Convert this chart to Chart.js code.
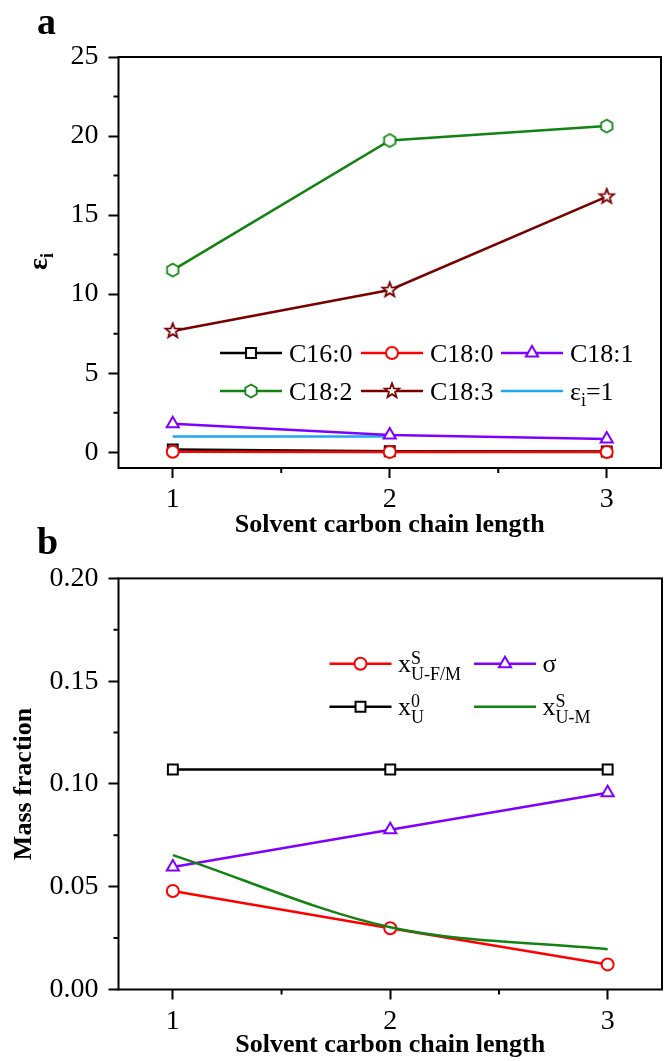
<!DOCTYPE html>
<html>
<head>
<meta charset="utf-8">
<script src="https://cdn.jsdelivr.net/npm/chart.js@4.4.0/dist/chart.umd.min.js"></script>
<style>
  body { margin: 0; background: #fff; }
  #wrap { position: relative; width: 671px; height: 1061px; overflow: hidden; background: #fff; }
  #wrap canvas { position: absolute; left: 0; }
  #chartA { top: 0; }
  #chartB { top: 525px; }
</style>
</head>
<body>
<div id="wrap">
  <canvas id="chartA" width="671" height="545"></canvas>
  <canvas id="chartB" width="671" height="536"></canvas>
</div>
<script>
// --- data: solvent chain length vs. separation factor (a) and mass fractions (b) ---
const chainLength = [1, 2, 3];
const xTicks = [1, 2, 3];
const xMinor = [1.5, 2.5];

const c160 = [0.17, 0.06, 0.04];
const c180 = [0.03, 0.02, 0.01];
const c181 = [1.80, 1.08, 0.83];
const c182 = [11.52, 19.72, 20.63];
const c183 = [7.67, 10.26, 16.17];
const epsOneX = [1, 2];
const epsOneY = [1, 1];
const yTicksA = [0, 5, 10, 15, 20, 25];
const yMinorA = [2.5, 7.5, 12.5, 17.5, 22.5];

const xU0 = [0.107, 0.107, 0.107];
const sigma = [0.0596, 0.0777, 0.0957];
const xUFM = [0.0479, 0.0298, 0.0122];
const xUM = [0.0654, 0.0303, 0.0196];
const yTicksB = [0, 0.05, 0.10, 0.15, 0.20];
const yMinorB = [0.025, 0.075, 0.125, 0.175];

const SERIF = "'Liberation Serif', 'Times New Roman', serif";

// colours
const BLACK = '#000000';
const RED = '#ff0000';
const VIOLET = '#8000ff';
const GREEN = '#128312';
const WINE = '#7a0000';
const CYAN = '#1ea6f0';

function pts(ys, xs) {
  xs = xs || chainLength;
  return ys.map((y, i) => ({ x: xs[i], y: y }));
}

// hollow marker drawn into a small canvas (hexagon / 5-point star)
function makeMarker(path, color) {
  const c = document.createElement('canvas');
  c.width = 20; c.height = 20;
  const g = c.getContext('2d');
  g.translate(10, 10);
  g.beginPath(); path(g); g.closePath();
  g.fillStyle = '#fff'; g.fill();
  g.lineWidth = 1.8; g.strokeStyle = color; g.lineJoin = 'miter'; g.stroke();
  return c;
}
const hexagon = makeMarker(g => {
  for (let k = 0; k < 6; k++) {
    const a = -Math.PI / 2 + k * Math.PI / 3;
    g.lineTo(6.5 * Math.cos(a), 6.5 * Math.sin(a));
  }
}, GREEN);
const star = makeMarker(g => {
  for (let k = 0; k < 10; k++) {
    const a = -Math.PI / 2 + k * Math.PI / 5;
    const r = k % 2 ? 3.2 : 7.6;
    g.lineTo(r * Math.cos(a), r * Math.sin(a));
  }
}, WINE);

function series(label, data, color, style, radius, extra) {
  return Object.assign({
    label: label,
    data: data,
    borderColor: color,
    backgroundColor: color,
    borderWidth: 2.5,
    pointStyle: style,
    pointRadius: radius,
    pointBorderWidth: 2,
    pointBorderColor: color,
    pointBackgroundColor: '#fff',
    tension: 0
  }, extra || {});
}

// text with stacked super/subscripts: parts are strings or {sup, sub}
function drawRich(ctx, parts, x, y, o) {
  ctx.textAlign = 'left';
  ctx.textBaseline = 'alphabetic';
  ctx.fillStyle = '#000';
  parts.forEach(p => {
    if (typeof p === 'string') {
      ctx.font = o.weight + ' ' + o.size + 'px ' + SERIF;
      ctx.fillText(p, x, y + o.base);
      x += ctx.measureText(p).width;
    } else {
      ctx.font = o.weight + ' ' + o.small + 'px ' + SERIF;
      let w = 0;
      if (p.sup) { ctx.fillText(p.sup, x, y + o.supBase); w = Math.max(w, ctx.measureText(p.sup).width); }
      if (p.sub) { ctx.fillText(p.sub, x, y + o.subBase); w = Math.max(w, ctx.measureText(p.sub).width); }
      x += w;
    }
  });
}

// legend with line + marker + rich label
const richLegend = {
  id: 'richLegend',
  afterDraw(chart, args, opts) {
    const ctx = chart.ctx;
    (opts.items || []).forEach(item => {
      const ds = chart.data.datasets[item.dataset];
      ctx.save();
      ctx.strokeStyle = ds.borderColor;
      ctx.lineWidth = ds.borderWidth;
      ctx.beginPath();
      ctx.moveTo(item.x, item.y);
      ctx.lineTo(item.x + opts.lineLength, item.y);
      ctx.stroke();
      if (ds.pointRadius > 0) {
        ctx.fillStyle = ds.pointBackgroundColor;
        ctx.strokeStyle = ds.pointBorderColor;
        ctx.lineWidth = ds.pointBorderWidth;
        Chart.helpers.drawPoint(ctx, {
          pointStyle: ds.pointStyle, radius: ds.pointRadius, rotation: 0, borderWidth: ds.pointBorderWidth
        }, item.x + opts.lineLength / 2, item.y);
      }
      drawRich(ctx, item.label, item.x + opts.lineLength + opts.gap, item.y, opts.text);
      ctx.restore();
    });
  }
};

// closed frame, short minor ticks, panel letter, rotated rich y title
const frame = {
  id: 'frame',
  afterDraw(chart, args, opts) {
    const { ctx, chartArea: a, scales } = chart;
    ctx.save();
    ctx.strokeStyle = '#000';
    ctx.lineWidth = 2;
    ctx.strokeRect(a.left, a.top, a.right - a.left, a.bottom - a.top);
    ctx.beginPath();
    opts.minorX.forEach(v => {
      const px = scales.x.getPixelForValue(v);
      ctx.moveTo(px, a.bottom); ctx.lineTo(px, a.bottom + 5);
    });
    opts.minorY.forEach(v => {
      const py = scales.y.getPixelForValue(v);
      ctx.moveTo(a.left, py); ctx.lineTo(a.left - 5, py);
    });
    ctx.stroke();

    ctx.fillStyle = '#000';
    ctx.font = 'bold 38px ' + SERIF;
    ctx.textAlign = 'left';
    ctx.textBaseline = 'alphabetic';
    ctx.fillText(opts.letter.text, opts.letter.x, opts.letter.y);

    if (opts.yTitle) {
      const t = opts.yTitle;
      ctx.translate(t.x, t.y);
      ctx.rotate(-Math.PI / 2);
      drawRich(ctx, t.parts, 0, 0, t.text);
    }
    ctx.restore();
  }
};

function axes(cfg) {
  return {
    x: {
      type: 'linear', min: 0.75, max: 3.25,
      afterBuildTicks: s => { s.ticks = xTicks.map(v => ({ value: v })); },
      afterFit: s => { s.height = cfg.xHeight; },
      grid: { drawOnChartArea: false, tickLength: 10, tickWidth: 2, tickColor: '#000' },
      border: { display: false },
      ticks: { font: { family: SERIF, size: 28, lineHeight: 1.2 }, color: '#000', padding: 5, maxRotation: 0 },
      title: {
        display: true, text: 'Solvent carbon chain length', color: '#000',
        font: { family: SERIF, size: 26, weight: 'bold', lineHeight: 1.2 },
        padding: { top: 0, bottom: cfg.xTitlePad }
      }
    },
    y: {
      type: 'linear', min: cfg.yMin, max: cfg.yMax,
      afterBuildTicks: s => { s.ticks = cfg.yTicks.map(v => ({ value: v })); },
      afterFit: s => { s.width = 118.5; },
      grid: { drawOnChartArea: false, tickLength: 10, tickWidth: 2, tickColor: '#000' },
      border: { display: false },
      ticks: {
        font: { family: SERIF, size: 28, lineHeight: 1.2 }, color: '#000', padding: 10,
        callback: cfg.yFormat
      },
      title: cfg.yTitle
    }
  };
}

const legendText = { weight: 'normal', size: 26, small: 18, base: 8.5, supBase: 0, subBase: 16 };

// --- panel a ---
new Chart(document.getElementById('chartA'), {
  type: 'line',
  data: {
    datasets: [
      series('C16:0', pts(c160), BLACK, 'rect', 7, { order: 6 }),
      series('C18:0', pts(c180), RED, 'circle', 6, { order: 5 }),
      series('C18:1', pts(c181), VIOLET, 'triangle', 7, { order: 3 }),
      series('C18:2', pts(c182), GREEN, hexagon, 7, { order: 2 }),
      series('C18:3', pts(c183), WINE, star, 8, { order: 1 }),
      series('εi=1', pts(epsOneY, epsOneX), CYAN, 'circle', 0, { order: 4 })
    ]
  },
  options: {
    responsive: false,
    animation: false,
    devicePixelRatio: 1,
    events: [],
    layout: { padding: { top: 57, right: 2, left: 0, bottom: 0 } },
    scales: axes({
      xHeight: 77, xTitlePad: 4, yMin: -1, yMax: 25, yTicks: yTicksA,
      yFormat: v => String(v), yTitle: { display: false }
    }),
    plugins: {
      legend: { display: false },
      tooltip: { enabled: false },
      frame: {
        minorX: xMinor, minorY: yMinorA,
        letter: { text: 'a', x: 37, y: 34 },
        yTitle: {
          x: 47, y: 270, parts: ['ε', { sub: 'i' }],
          text: { weight: 'bold', size: 28, small: 18, base: 0, subBase: 6 }
        }
      },
      richLegend: {
        lineLength: 62, gap: 7, text: Object.assign({}, legendText, { subBase: 15 }),
        items: [
          { dataset: 0, x: 220, y: 353, label: ['C16:0'] },
          { dataset: 1, x: 361, y: 353, label: ['C18:0'] },
          { dataset: 2, x: 501, y: 353, label: ['C18:1'] },
          { dataset: 3, x: 220, y: 391, label: ['C18:2'] },
          { dataset: 4, x: 361, y: 391, label: ['C18:3'] },
          { dataset: 5, x: 501, y: 391, label: ['ε', { sub: 'i' }, '=1'] }
        ]
      }
    }
  },
  plugins: [frame, richLegend]
});

// --- panel b ---
new Chart(document.getElementById('chartB'), {
  type: 'line',
  data: {
    datasets: [
      series('x0U', pts(xU0), BLACK, 'rect', 7, { order: 4 }),
      series('sigma', pts(sigma), VIOLET, 'triangle', 7, { order: 3 }),
      series('xSU-F/M', pts(xUFM), RED, 'circle', 6, { order: 2 }),
      series('xSU-M', pts(xUM), GREEN, 'circle', 0, { order: 1, cubicInterpolationMode: 'monotone' })
    ]
  },
  options: {
    responsive: false,
    animation: false,
    devicePixelRatio: 1,
    events: [],
    layout: { padding: { top: 53.4, right: 2, left: 0, bottom: 0 } },
    scales: axes({
      xHeight: 71.5, xTitlePad: 0, yMin: 0, yMax: 0.2, yTicks: yTicksB,
      yFormat: v => v.toFixed(2),
      yTitle: {
        display: true, text: 'Mass fraction', color: '#000',
        font: { family: SERIF, size: 26, weight: 'bold', lineHeight: 1.2 },
        padding: { top: 9, bottom: 0 }
      }
    }),
    plugins: {
      legend: { display: false },
      tooltip: { enabled: false },
      frame: {
        minorX: xMinor, minorY: yMinorB,
        letter: { text: 'b', x: 37, y: 29 }
      },
      richLegend: {
        lineLength: 62, gap: 6.5, text: Object.assign({}, legendText, { base: 8 }),
        items: [
          { dataset: 2, x: 329.5, y: 138.8, label: ['x', { sup: 'S', sub: 'U-F/M' }] },
          { dataset: 1, x: 474, y: 138.8, label: ['σ'] },
          { dataset: 0, x: 329.5, y: 181.8, label: ['x', { sup: '0', sub: 'U' }] },
          { dataset: 3, x: 474, y: 181.8, label: ['x', { sup: 'S', sub: 'U-M' }] }
        ]
      }
    }
  },
  plugins: [frame, richLegend]
});
</script>
</body>
</html>
